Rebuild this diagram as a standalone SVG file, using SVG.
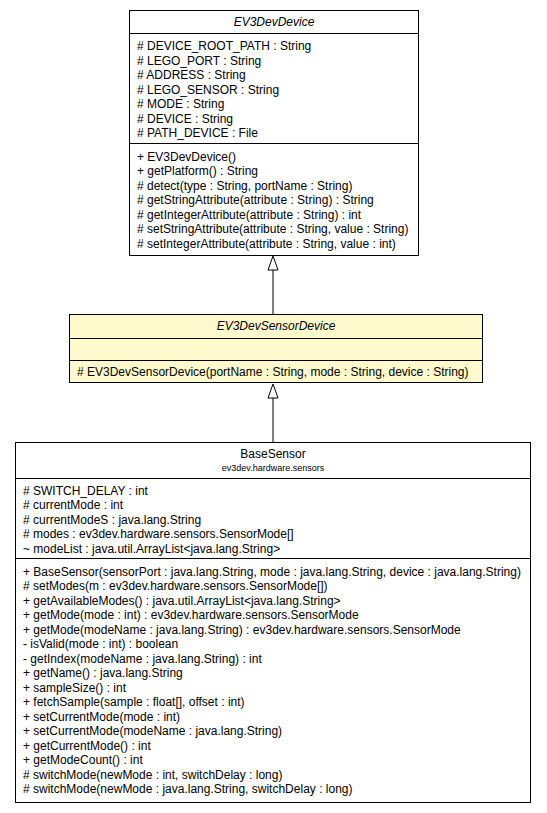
<svg xmlns="http://www.w3.org/2000/svg" width="547" height="813" viewBox="0 0 547 813">
<style>
text{font-family:"Liberation Sans",Arial,sans-serif;font-size:12px;fill:#000}
.t{text-anchor:middle}
.i{font-style:italic}
.pkg{font-size:9px;text-anchor:middle}
.box{fill:#fff;stroke:#000;stroke-width:1}
.hl{fill:#fffacd}
.ln{stroke:#000;stroke-width:1;fill:none}
.arr{fill:#fff;stroke:#000;stroke-width:1}
</style>
<g id="connectors">
<path class="ln" d="M273,270 L273,314"/>
<path class="arr" d="M273,256 L278,270 L268,270 Z"/>
<path class="ln" d="M273,398 L273,442"/>
<path class="arr" d="M273,384 L278,398 L268,398 Z"/>
</g>
<g id="EV3DevDevice">
<rect class="box" x="129.5" y="10.5" width="289" height="245"/>
<path class="ln" d="M129.5,33.5 H418.5 M129.5,143.5 H418.5"/>
<text class="t i" x="274" y="26">EV3DevDevice</text>
<text x="137" y="50"># DEVICE_ROOT_PATH : String</text>
<text x="137" y="64.5"># LEGO_PORT : String</text>
<text x="137" y="79"># ADDRESS : String</text>
<text x="137" y="93.5"># LEGO_SENSOR : String</text>
<text x="137" y="108"># MODE : String</text>
<text x="137" y="122.5"># DEVICE : String</text>
<text x="137" y="137"># PATH_DEVICE : File</text>
<text x="137" y="160.5">+ EV3DevDevice()</text>
<text x="137" y="175">+ getPlatform() : String</text>
<text x="137" y="189.5"># detect(type : String, portName : String)</text>
<text x="137" y="204"># getStringAttribute(attribute : String) : String</text>
<text x="137" y="218.5"># getIntegerAttribute(attribute : String) : int</text>
<text x="137" y="233"># setStringAttribute(attribute : String, value : String)</text>
<text x="137" y="247.5"># setIntegerAttribute(attribute : String, value : int)</text>
</g>
<g id="EV3DevSensorDevice">
<rect class="box hl" x="69.5" y="314.5" width="413" height="68"/>
<path class="ln" d="M69.5,338.5 H482.5 M69.5,360.5 H482.5"/>
<text class="t i" x="276" y="330">EV3DevSensorDevice</text>
<text x="77" y="375.5"># EV3DevSensorDevice(portName : String, mode : String, device : String)</text>
</g>
<g id="BaseSensor">
<rect class="box" x="15.5" y="442.5" width="515" height="360"/>
<path class="ln" d="M15.5,478.5 H530.5 M15.5,558.5 H530.5"/>
<text class="t" x="273" y="458">BaseSensor</text>
<text class="pkg" x="273" y="471">ev3dev.hardware.sensors</text>
<text x="23" y="494.5"># SWITCH_DELAY : int</text>
<text x="23" y="509"># currentMode : int</text>
<text x="23" y="523.5"># currentModeS : java.lang.String</text>
<text x="23" y="538"># modes : ev3dev.hardware.sensors.SensorMode[]</text>
<text x="23" y="552.5">~ modeList : java.util.ArrayList&lt;java.lang.String&gt;</text>
<text x="23" y="575.5">+ BaseSensor(sensorPort : java.lang.String, mode : java.lang.String, device : java.lang.String)</text>
<text x="23" y="590"># setModes(m : ev3dev.hardware.sensors.SensorMode[])</text>
<text x="23" y="604.5">+ getAvailableModes() : java.util.ArrayList&lt;java.lang.String&gt;</text>
<text x="23" y="619">+ getMode(mode : int) : ev3dev.hardware.sensors.SensorMode</text>
<text x="23" y="633.5">+ getMode(modeName : java.lang.String) : ev3dev.hardware.sensors.SensorMode</text>
<text x="23" y="648">- isValid(mode : int) : boolean</text>
<text x="23" y="662.5">- getIndex(modeName : java.lang.String) : int</text>
<text x="23" y="677">+ getName() : java.lang.String</text>
<text x="23" y="691.5">+ sampleSize() : int</text>
<text x="23" y="706">+ fetchSample(sample : float[], offset : int)</text>
<text x="23" y="720.5">+ setCurrentMode(mode : int)</text>
<text x="23" y="735">+ setCurrentMode(modeName : java.lang.String)</text>
<text x="23" y="749.5">+ getCurrentMode() : int</text>
<text x="23" y="764">+ getModeCount() : int</text>
<text x="23" y="778.5"># switchMode(newMode : int, switchDelay : long)</text>
<text x="23" y="793"># switchMode(newMode : java.lang.String, switchDelay : long)</text>
</g>
</svg>
